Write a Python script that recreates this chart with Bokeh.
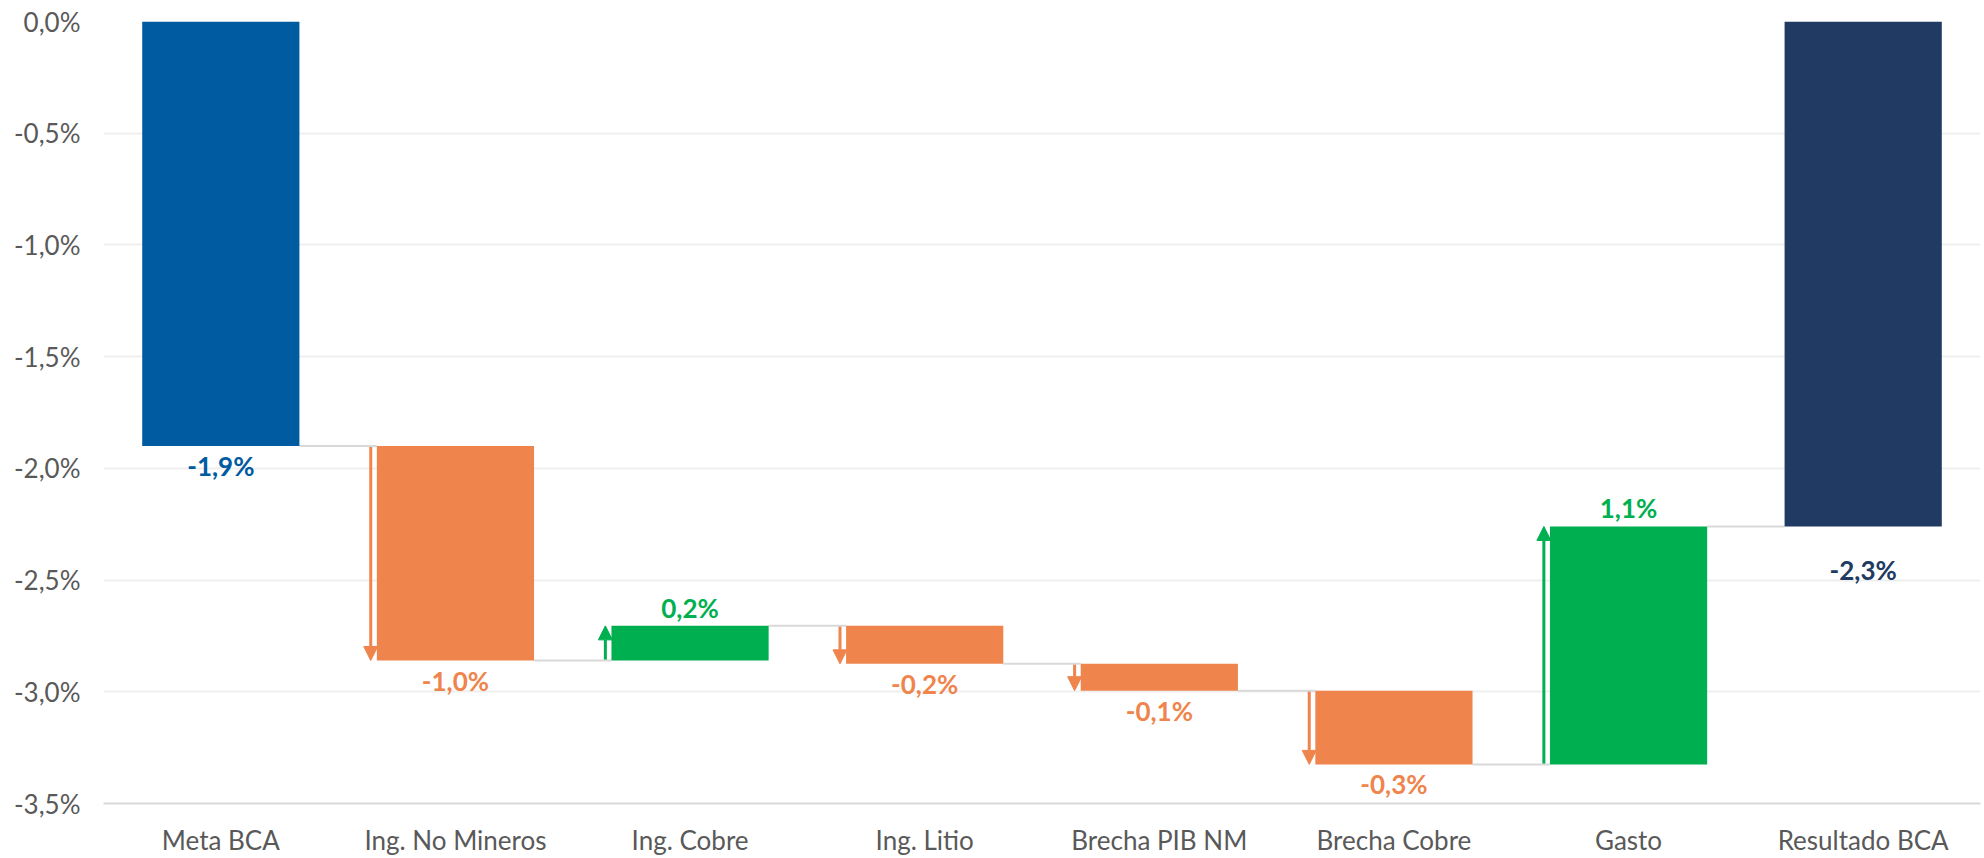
from bokeh.plotting import figure
from bokeh.models import (ColumnDataSource, Range1d, FixedTicker,
                          CustomJSTickFormatter, Arrow, NormalHead)
from bokeh.core.properties import value
from bokeh.embed import file_html
from bokeh.resources import INLINE

# Waterfall: from the structural balance target to the result
categories = ["Meta BCA", "Ing. No Mineros", "Ing. Cobre", "Ing. Litio",
              "Brecha PIB NM", "Brecha Cobre", "Gasto", "Resultado BCA"]
meta_bca = -1.90
contributions = [-0.96, 0.155, -0.17, -0.12, -0.33, 1.065]
y_ticks = [-3.5, -3.0, -2.5, -2.0, -1.5, -1.0, -0.5, 0.0]

BLUE = "#005BA1"
NAVY = "#213A64"
ORANGE = "#EF844C"
GREEN = "#00B050"
FONT = "Lato"
BAR_W = 0.67


def pct(v):
    return f"{v:.1f}".replace(".", ",") + "%"


# cumulative levels of the waterfall
starts, ends = [0.0], [meta_bca]
level = meta_bca
for c in contributions:
    starts.append(level)
    level = level + c
    ends.append(level)
starts.append(0.0)
ends.append(level)

amounts = [meta_bca] + contributions + [level]
colors = [BLUE] + [GREEN if c > 0 else ORANGE for c in contributions] + [NAVY]
xs = list(range(len(categories)))

p = figure(width=1984, height=858, output_backend="svg", toolbar_location=None,
           title=None, x_range=Range1d(-0.5, len(categories) - 0.5),
           y_range=Range1d(y_ticks[0], y_ticks[-1]),
           min_border_left=103, min_border_right=4,
           min_border_top=21, min_border_bottom=54)
p.outline_line_color = None
p.background_fill_color = "white"
p.border_fill_color = "white"

# axes
p.xgrid.grid_line_color = None
p.ygrid.grid_line_color = "#EFEFEF"
p.ygrid.grid_line_width = 2
p.yaxis.ticker = FixedTicker(ticks=y_ticks)
p.yaxis.formatter = CustomJSTickFormatter(
    code="return tick.toFixed(1).replace('.', ',') + '%';")
p.yaxis.axis_line_color = None
p.yaxis.major_tick_line_color = None
p.yaxis.minor_tick_line_color = None
p.yaxis.major_label_standoff = 17
p.yaxis.major_label_text_font = FONT
p.yaxis.major_label_text_font_size = "26px"
p.yaxis.major_label_text_color = "#595959"

p.xaxis.ticker = FixedTicker(ticks=xs)
p.xaxis.major_label_overrides = {i: c for i, c in zip(xs, categories)}
p.xaxis.axis_line_color = "#D9D9D9"
p.xaxis.axis_line_width = 2
p.xaxis.major_tick_line_color = None
p.xaxis.minor_tick_line_color = None
p.xaxis.major_label_standoff = 14
p.xaxis.major_label_text_font = FONT
p.xaxis.major_label_text_font_size = "26px"
p.xaxis.major_label_text_color = "#595959"

# connectors between consecutive bars
con = ColumnDataSource(dict(
    x0=[x + BAR_W / 2 for x in xs[:-1]],
    x1=[x + 1 - BAR_W / 2 for x in xs[:-1]],
    y=ends[:-1]))
p.segment(x0="x0", y0="y", x1="x1", y1="y", source=con,
          line_color="#D9D9D9", line_width=2)

# direction arrows next to each contribution
for sign, col in ((-1, ORANGE), (1, GREEN)):
    idx = [i for i in range(1, len(categories) - 1)
           if (amounts[i] > 0) == (sign > 0)]
    src = ColumnDataSource(dict(
        x=[i - BAR_W / 2 - 0.026 for i in idx],
        y0=[starts[i] for i in idx],
        y1=[ends[i] for i in idx]))
    p.add_layout(Arrow(x_start="x", y_start="y0", x_end="x", y_end="y1",
                       source=src, line_color=col, line_width=3,
                       level="underlay",
                       end=NormalHead(size=14, fill_color=col,
                                      line_color=col, line_width=1)))

# bars
bars = ColumnDataSource(dict(
    x=xs,
    top=[max(s, e) for s, e in zip(starts, ends)],
    bottom=[min(s, e) for s, e in zip(starts, ends)],
    color=colors))
p.vbar(x="x", top="top", bottom="bottom", width=BAR_W, source=bars,
       fill_color="color", line_color=None)

# value labels
below = [i for i in xs if amounts[i] < 0]
above = [i for i in xs if amounts[i] > 0]
gap_below = {i: (28 if i == len(categories) - 1 else 4) for i in below}

lab_below = ColumnDataSource(dict(
    x=below, y=[min(starts[i], ends[i]) for i in below],
    text=[pct(amounts[i]) for i in below],
    color=[colors[i] for i in below],
    off=[gap_below[i] for i in below]))
p.text(x="x", y="y", text="text", source=lab_below, text_color="color",
       y_offset="off", text_align="center", text_baseline="top",
       text_font=value(FONT), text_font_style="bold",
       text_font_size="26px")

lab_above = ColumnDataSource(dict(
    x=above, y=[max(starts[i], ends[i]) for i in above],
    text=[pct(amounts[i]) for i in above],
    color=[colors[i] for i in above]))
p.text(x="x", y="y", text="text", source=lab_above, text_color="color",
       y_offset=-2, text_align="center", text_baseline="bottom",
       text_font=value(FONT), text_font_style="bold",
       text_font_size="26px")

open("out.html", "w").write(file_html(p, INLINE))
